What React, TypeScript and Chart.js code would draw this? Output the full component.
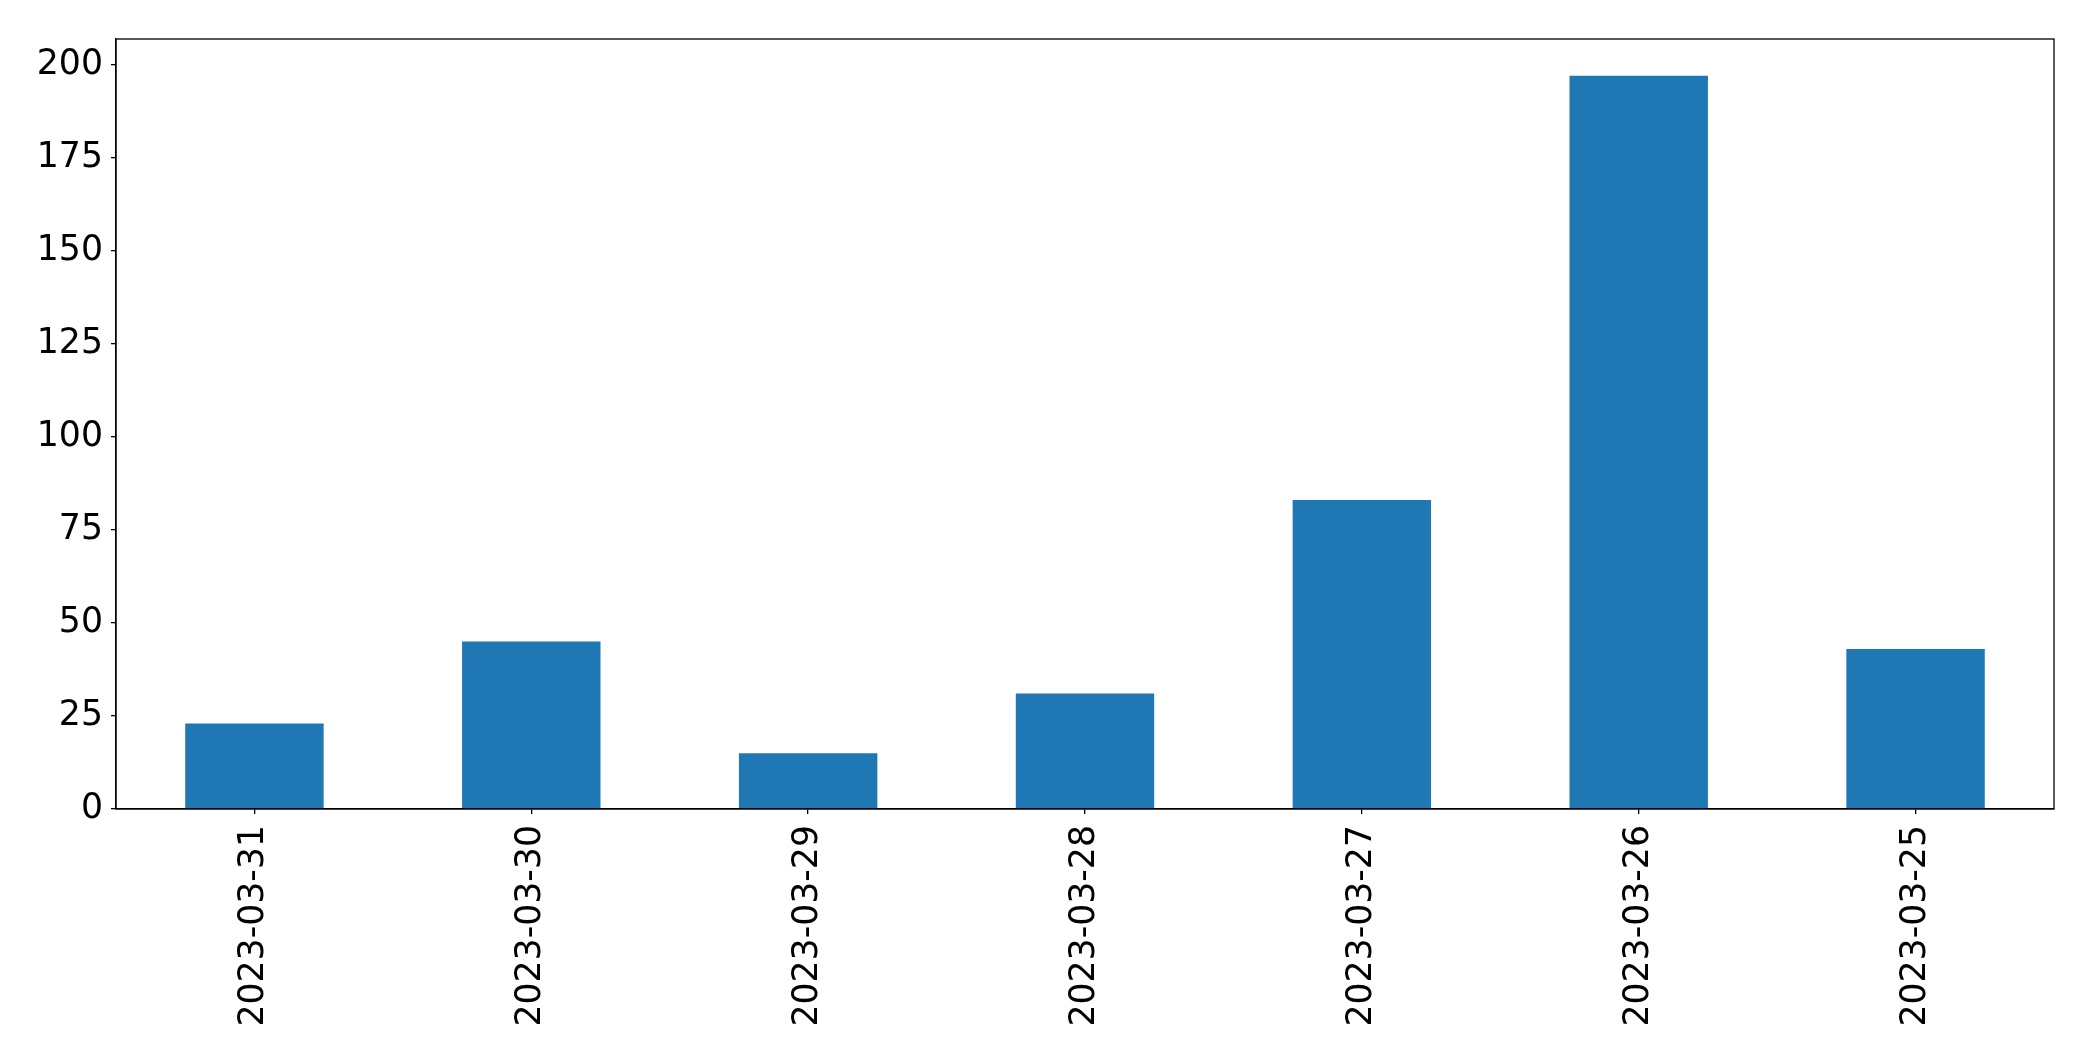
import React, { useEffect, useRef } from "react";
import { Chart, registerables } from "chart.js";

Chart.register(...registerables);

const categories = ["2023-03-31", "2023-03-30", "2023-03-29", "2023-03-28", "2023-03-27", "2023-03-26", "2023-03-25"];
const values = [23, 45, 15, 31, 83, 197, 43];
const yTicks = [0, 25, 50, 75, 100, 125, 150, 175, 200];

const W = 2093;
const H = 1061;

const frame = {
  id: "frame",
  afterDatasetsDraw(chart: any) {
    const { ctx, chartArea } = chart;
    ctx.save();
    ctx.strokeStyle = "#000";
    ctx.lineWidth = 1.3;
    ctx.strokeRect(chartArea.left, chartArea.top, chartArea.right - chartArea.left, chartArea.bottom - chartArea.top);
    ctx.restore();
  },
};

export default function App() {
  const ref = useRef<HTMLCanvasElement | null>(null);
  useEffect(() => {
    if (!ref.current) return;
    const font = { family: "'DejaVu Sans', sans-serif", size: 34.7 };
    const chart = new Chart(ref.current, {
      type: "bar",
      data: {
        labels: categories,
        datasets: [
          {
            data: values,
            backgroundColor: "#1f77b4",
            borderWidth: 0,
            barPercentage: 0.5,
            categoryPercentage: 1,
          },
        ],
      },
      plugins: [frame],
      options: {
        animation: false,
        responsive: false,
        devicePixelRatio: 1,
        layout: { padding: { left: 0, top: 39, right: W - 2054, bottom: 0 } },
        plugins: { legend: { display: false }, tooltip: { enabled: false } },
        scales: {
          x: {
            grid: { display: true, offset: false, drawOnChartArea: false, drawTicks: true, tickLength: 5, color: "#000", lineWidth: 1.3 },
            border: { display: true, color: "#000", width: 1.3 },
            ticks: { color: "#000", font, minRotation: 90, maxRotation: 90, padding: 11, autoSkip: false },
            afterFit: (s: any) => {
              s.height = H - 809;
            },
          },
          y: {
            min: 0,
            max: 206.85,
            grid: { display: true, drawOnChartArea: false, drawTicks: true, tickLength: 5, color: "#000", lineWidth: 1.3 },
            border: { display: true, color: "#000", width: 1.3 },
            ticks: { color: "#000", font, padding: 8, stepSize: 25 },
            afterBuildTicks: (s: any) => {
              s.ticks = yTicks.map((v) => ({ value: v }));
            },
            afterFit: (s: any) => {
              s.width = 116;
            },
          },
        },
      },
    });
    return () => chart.destroy();
  }, []);
  return (
    <div style={{ position: "absolute", left: 0, top: 0, width: W, height: H, background: "#fff" }}>
      <canvas ref={ref} width={W} height={H} style={{ width: W, height: H, display: "block" }} />
    </div>
  );
}
